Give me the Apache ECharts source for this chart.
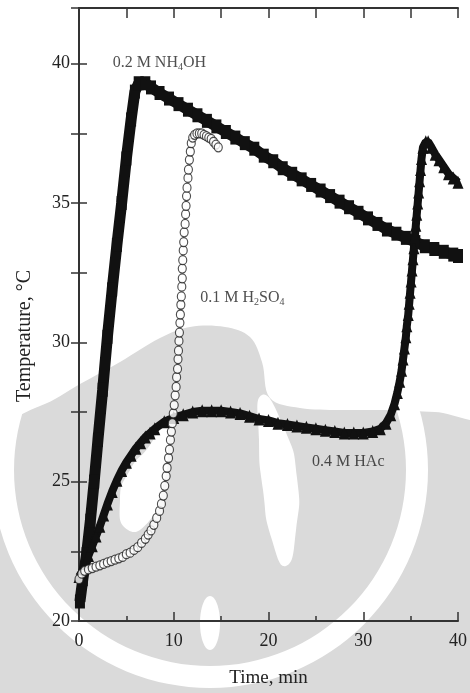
<!DOCTYPE html>
<html><head><meta charset="utf-8">
<script src="https://cdn.jsdelivr.net/npm/echarts@6/dist/echarts.min.js"></script>
<style>html,body{margin:0;padding:0;background:#fff}#c{width:470px;height:693px}</style>
</head><body><div id="c"></div>
<script>
// ---- tick labels ----
const xTickLabels = [0, 10, 20, 30, 40];
const yTickLabels = [20, 25, 30, 35, 40];

// ---- series values: [time (min), temperature (°C)] ----
const nh4oh = [
  [0.1,20.7],[0.4,21.5],[0.8,22.4],[1.2,23.6],[1.6,25.0],[2.0,26.5],[2.5,28.3],[3.0,30.2],
  [3.5,31.9],[4.0,33.5],[4.5,35.0],[5.0,36.6],[5.5,38.0],[5.9,39.0],[6.3,39.3],[7.0,39.3],
  [7.6,39.15],[8.5,38.95],[9.5,38.75],[10.5,38.55],[11.5,38.35],[12.5,38.15],[13.5,37.95],
  [14.5,37.75],[15.5,37.55],[16.5,37.35],[17.5,37.15],[18.5,36.95],[19.5,36.7],[20.5,36.5],
  [21.5,36.25],[22.5,36.05],[23.5,35.85],[24.5,35.65],[25.5,35.45],[26.5,35.25],[27.5,35.05],
  [28.5,34.85],[29.5,34.65],[30.5,34.45],[31.5,34.25],[32.5,34.05],[33.5,33.9],[34.5,33.75],
  [35.5,33.6],[36.5,33.45],[37.5,33.35],[38.5,33.25],[39.5,33.15],[40,33.1]
];
const h2so4 = [
  [0,21.5],[0.3,21.7],[0.6,21.8],[1.0,21.85],[1.4,21.9],[1.8,21.95],[2.2,22.0],[2.6,22.05],
  [3.0,22.1],[3.4,22.15],[3.8,22.2],[4.2,22.25],[4.6,22.3],[5.0,22.4],[5.4,22.45],[5.8,22.55],
  [6.2,22.65],[6.6,22.8],[7.0,22.95],[7.3,23.1],[7.6,23.25],[7.9,23.45],[8.2,23.7],[8.5,23.95],
  [8.7,24.2],[8.9,24.5],[9.05,24.85],[9.2,25.2],[9.3,25.5],[9.45,25.85],[9.55,26.15],[9.65,26.5],
  [9.75,26.8],[9.85,27.1],[9.95,27.45],[10.05,27.75],[10.15,28.1],[10.25,28.4],[10.3,28.75],
  [10.4,29.05],[10.45,29.4],[10.5,29.7],[10.55,30.05],[10.6,30.35],[10.65,30.7],[10.7,31.0],
  [10.75,31.35],[10.8,31.65],[10.85,32.0],[10.9,32.3],[10.9,32.65],[10.95,32.95],[11.0,33.3],
  [11.05,33.6],[11.1,33.95],[11.2,34.25],[11.25,34.6],[11.3,34.9],[11.35,35.25],[11.4,35.55],
  [11.5,35.9],[11.55,36.2],[11.65,36.55],[11.75,36.85],[11.85,37.15],[12.0,37.35],[12.2,37.45],
  [12.45,37.5],[12.7,37.5],[12.95,37.5],[13.2,37.45],[13.45,37.4],[13.7,37.35],[13.95,37.3],
  [14.2,37.2],[14.45,37.1],[14.7,37.0]
];
const hac = [
  [0,21.6],[0.3,21.75],[0.6,22.0],[1.0,22.35],[1.4,22.7],[1.8,23.05],[2.2,23.4],[2.6,23.8],
  [3.0,24.2],[3.5,24.65],[4.0,25.05],[4.5,25.4],[5.0,25.7],[5.5,25.95],[6.0,26.2],[6.5,26.4],
  [7.0,26.6],[7.5,26.75],[8.0,26.9],[9.0,27.15],[10.0,27.3],[11.0,27.4],[12.0,27.5],[13.0,27.55],
  [14.0,27.55],[15.0,27.55],[16.0,27.5],[17.0,27.45],[18.0,27.35],[19.0,27.25],[20.0,27.2],
  [21.0,27.1],[22.0,27.05],[23.0,27.0],[24.0,26.95],[25.0,26.9],[26.0,26.85],[27.0,26.8],
  [28.0,26.75],[29.0,26.75],[30.0,26.75],[31.0,26.8],[31.8,26.9],[32.4,27.1],[32.9,27.4],
  [33.3,27.8],[33.6,28.2],[33.85,28.6],[34.05,29.0],[34.2,29.4],[34.35,29.8],[34.5,30.2],
  [34.6,30.6],[34.75,31.0],[34.85,31.4],[34.95,31.8],[35.05,32.2],[35.15,32.6],[35.25,33.0],
  [35.35,33.4],[35.45,33.8],[35.55,34.2],[35.65,34.6],[35.75,35.0],[35.85,35.4],[35.95,35.8],
  [36.05,36.2],[36.15,36.6],[36.3,37.0],[36.6,37.2],[36.85,37.2],[37.2,37.0],[37.6,36.75],
  [38.0,36.55],[38.5,36.3],[39.0,36.05],[39.5,35.9],[40.0,35.75]
];

// ---- annotation texts and anchor points (data coords) ----
const noteTexts = ['0.2 M NH{s|4}OH', '0.1 M H{s|2}SO{s|4}', '0.4 M HAc'];
const noteAnchors = [[3.55, 40.05], [12.8, 31.6], [24.6, 25.7]];

const FONT = 'Liberation Serif';
const INK = '#111';
const WM = '#dadada';

const chart = echarts.init(document.getElementById('c'), null, {renderer: 'canvas'});

const axisCommon = {
  type: 'value',
  axisLine: {show: true, lineStyle: {color: '#333', width: 2}},
  splitLine: {show: false}
};

chart.setOption({
  animation: false,
  backgroundColor: '#fff',
  grid: {left: 79, right: 7, top: 8, bottom: 68, containLabel: false},
  xAxis: [
    Object.assign({}, axisCommon, {
      min: 0, max: 40, interval: 10, position: 'bottom',
      axisTick: {inside: true, length: 9, lineStyle: {color: '#333', width: 1.5}},
      minorTick: {show: true, splitNumber: 2, length: 5, lineStyle: {color: '#333', width: 1.5}},
      axisLabel: {color: '#222', fontFamily: FONT, fontSize: 18, margin: 11,
        formatter: v => xTickLabels.includes(v) ? String(v) : ''},
      name: 'Time, min', nameLocation: 'middle', nameGap: 48,
      nameTextStyle: {color: '#222', fontFamily: FONT, fontSize: 19}
    }),
    Object.assign({}, axisCommon, {
      min: 0, max: 40, interval: 5, position: 'top',
      axisTick: {inside: true, length: 10, lineStyle: {color: '#333', width: 1.5}},
      axisLabel: {show: false}
    })
  ],
  yAxis: [
    Object.assign({}, axisCommon, {
      min: 20, max: 42, interval: 2.5, position: 'left',
      axisTick: {inside: true, length: 8, lineStyle: {color: '#333', width: 1.5}},
      axisLabel: {color: '#222', fontFamily: FONT, fontSize: 18, margin: 9,
        showMaxLabel: false,
        formatter: v => yTickLabels.includes(v) ? String(v) : ''}
    }),
    Object.assign({}, axisCommon, {
      min: 20, max: 42, interval: 2.5, position: 'right',
      axisTick: {inside: true, length: 8, lineStyle: {color: '#333', width: 1.5}},
      axisLabel: {show: false}
    })
  ],
  graphic: [
    // watermark (light grey emblem behind the chart)
    {type: 'circle', z: -10, silent: true, shape: {cx: 220, cy: 520, r: 330}, style: {fill: WM}},
    {type: 'ring', z: -9, silent: true, shape: {cx: 210, cy: 470, r: 218, r0: 196}, style: {fill: '#fff'}},
    {type: 'polygon', z: -8, silent: true, shape: {smooth: 0.35, points: [
      [-20,-20],[-20,420],[40,406],[80,384],[120,362],[160,338],[190,327],[225,327],[250,337],
      [262,362],[270,398],[300,408],[340,410],[390,410],[435,412],[490,414],[490,-20]]},
      style: {fill: '#fff'}},
    {type: 'polygon', z: -8, silent: true, shape: {smooth: 0.6, points: [
      [262,395],[284,428],[297,478],[296,530],[286,566],[272,540],[263,490],[259,440]]},
      style: {fill: '#fff'}},
    {type: 'polygon', z: -8, silent: true, shape: {smooth: 0.6, points: [
      [165,420],[150,445],[130,470],[120,500],[128,530],[150,520],[162,490],[168,450]]},
      style: {fill: '#fff'}},
    {type: 'ellipse', z: -8, silent: true, shape: {cx: 210, cy: 623, rx: 10, ry: 27}, style: {fill: '#fff'}},
    // y-axis title
    {type: 'text', z: 10, x: 25, y: 336, rotation: Math.PI / 2,
      style: {text: 'Temperature, °C', fontFamily: FONT, fontSize: 20, fill: '#222',
        align: 'center', verticalAlign: 'middle'}}
  ],
  series: [
    {name: '0.2 M NH4OH', type: 'line', data: nh4oh, z: 3,
      symbol: 'rect', symbolSize: [10, 14], showAllSymbol: true,
      lineStyle: {color: INK, width: 11}, itemStyle: {color: INK}},
    {name: '0.4 M HAc', type: 'line', data: hac, z: 3,
      symbol: 'triangle', symbolSize: [11, 13], showAllSymbol: true,
      lineStyle: {color: INK, width: 8}, itemStyle: {color: INK}},
    {name: '0.1 M H2SO4', type: 'scatter', data: h2so4, z: 4,
      symbol: 'circle', symbolSize: [8, 9],
      itemStyle: {color: '#fff', borderColor: '#222', borderWidth: 1.2}},
    {name: 'notes', type: 'scatter', data: noteAnchors, z: 5, symbolSize: 0, silent: true,
      label: {show: true, position: 'right', distance: 0,
        formatter: p => noteTexts[p.dataIndex],
        color: '#222', fontFamily: FONT, fontSize: 16, lineHeight: 20,
        rich: {s: {fontSize: 10, fontFamily: FONT, color: '#222', verticalAlign: 'bottom', lineHeight: 20}}}}
  ]
});
</script></body></html>
